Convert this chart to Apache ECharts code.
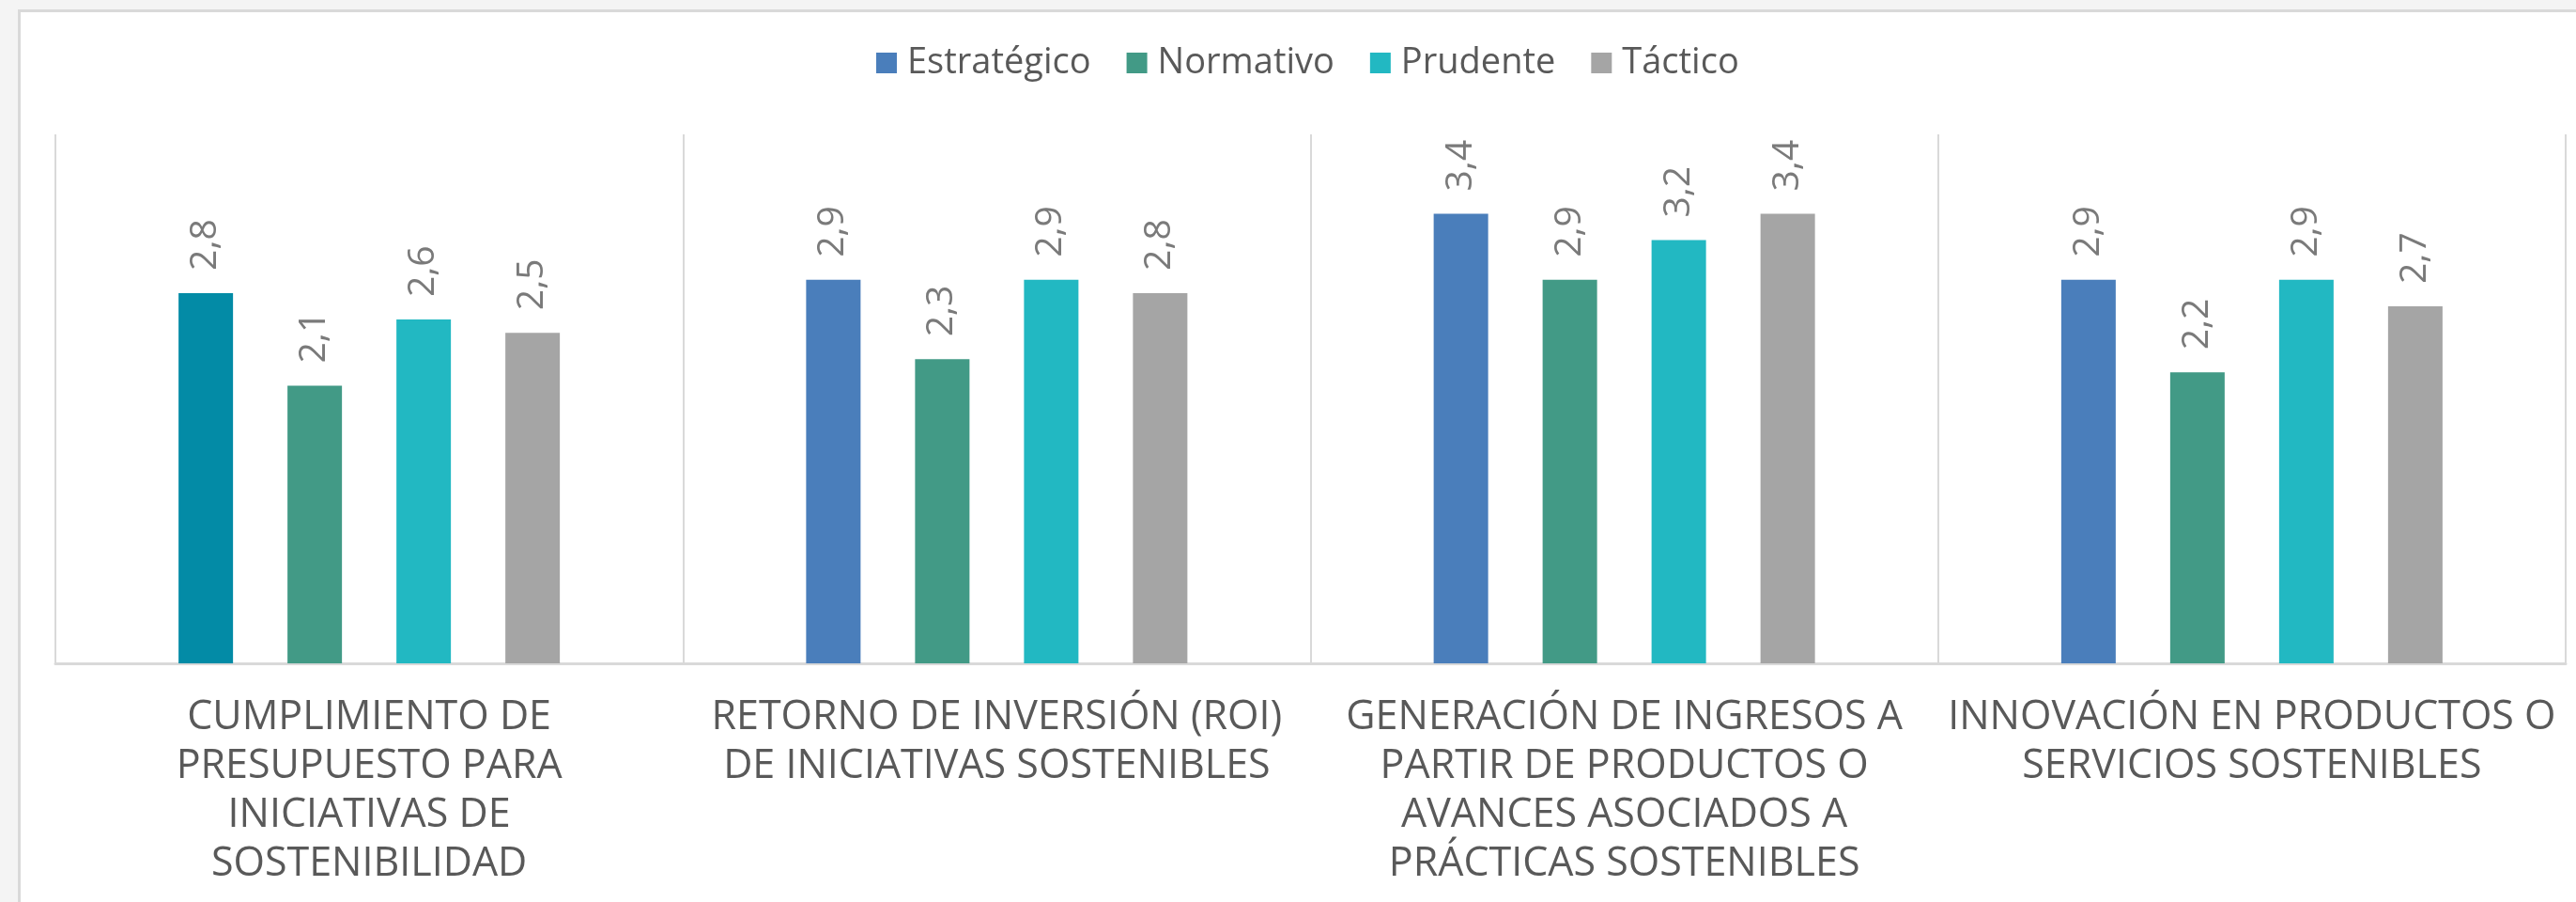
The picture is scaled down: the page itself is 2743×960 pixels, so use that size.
<!DOCTYPE html>
<html>
<head>
<meta charset="utf-8">
<script src="https://cdn.jsdelivr.net/npm/echarts@6/dist/echarts.min.js"></script>
<style>
  html, body { margin: 0; padding: 0; background: #f4f4f4; }
  #chart { width: 2743px; height: 960px; }
</style>
</head>
<body>
<div id="chart"></div>
<script>
// tick labels, one line per entry as in the picture
var categoryLines = [
  ['CUMPLIMIENTO DE', 'PRESUPUESTO PARA', 'INICIATIVAS DE', 'SOSTENIBILIDAD'],
  ['RETORNO DE INVERSIÓN (ROI)', 'DE INICIATIVAS SOSTENIBLES'],
  ['GENERACIÓN DE INGRESOS A', 'PARTIR DE PRODUCTOS O', 'AVANCES ASOCIADOS A', 'PRÁCTICAS SOSTENIBLES'],
  ['INNOVACIÓN EN PRODUCTOS O', 'SERVICIOS SOSTENIBLES']
];
var categories = categoryLines.map(function (l) { return l.join(' '); });

var seriesNames = ['Estratégico', 'Normativo', 'Prudente', 'Táctico'];
var estrategico = [2.8, 2.9, 3.4, 2.9];
var normativo = [2.1, 2.3, 2.9, 2.2];
var prudente = [2.6, 2.9, 3.2, 2.9];
var tactico = [2.5, 2.8, 3.4, 2.7];

var colors = ['#4A7EBB', '#429A86', '#22B8C2', '#A5A5A5'];
var firstBarColor = '#038BA6'; // first Estratégico bar is drawn in another shade

var chart = echarts.init(document.getElementById('chart'));

function makeSeries(name, values, color) {
  return {
    name: name,
    type: 'bar',
    barWidth: 58,
    barGap: '100%',
    itemStyle: { color: color },
    label: {
      show: true,
      position: 'top',
      rotate: 90,
      align: 'left',
      verticalAlign: 'middle',
      distance: 24,
      color: '#7A7A7A',
      fontFamily: 'Open Sans',
      fontSize: 39,
      formatter: function (p) { return p.value.toFixed(1).replace('.', ','); }
    },
    emphasis: { disabled: true },
    data: values.slice()
  };
}

var series = [
  makeSeries(seriesNames[0], estrategico, colors[0]),
  makeSeries(seriesNames[1], normativo, colors[1]),
  makeSeries(seriesNames[2], prudente, colors[2]),
  makeSeries(seriesNames[3], tactico, colors[3])
];
series[0].data[0] = { value: estrategico[0], itemStyle: { color: firstBarColor } };

var option = {
  animation: false,
  backgroundColor: '#f4f4f4',
  graphic: [{
    type: 'rect',
    left: 19,
    top: 10,
    z: -10,
    shape: { width: 2800, height: 1000 },
    style: { fill: '#ffffff', stroke: '#d9d9d9', lineWidth: 3 }
  }],
  legend: {
    data: seriesNames,
    left: 933,
    top: 48,
    padding: 0,
    icon: 'rect',
    itemWidth: 22,
    itemHeight: 22,
    itemGap: 38,
    textStyle: { color: '#595959', fontFamily: 'Open Sans', fontSize: 38, padding: [0, 0, 0, 6] }
  },
  grid: { left: 59, right: 11, top: 143, bottom: 254 },
  xAxis: {
    type: 'category',
    data: categories,
    axisTick: { show: false },
    axisLine: { lineStyle: { color: '#D9D9D9', width: 3 } },
    splitLine: { show: true, lineStyle: { color: '#D9D9D9', width: 2 } },
    axisLabel: {
      interval: 0,
      margin: 32,
      color: '#595959',
      fontFamily: 'Open Sans',
      fontSize: 43,
      lineHeight: 52,
      formatter: function (v, i) { return categoryLines[i].join('\n'); }
    }
  },
  yAxis: {
    type: 'value',
    min: 0,
    max: 4,
    show: false,
    splitLine: { show: false }
  },
  series: series
};

chart.setOption(option);
</script>
</body>
</html>
